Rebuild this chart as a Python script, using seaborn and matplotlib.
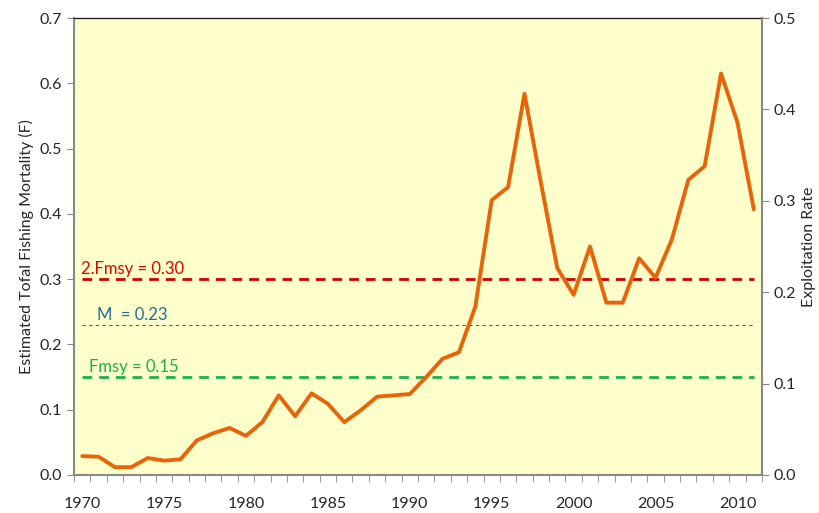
import numpy as np
import pandas as pd
import seaborn as sns
import matplotlib.pyplot as plt
from matplotlib.ticker import FixedLocator

years = list(range(1970, 2012))
fmort = [0.029, 0.028, 0.012, 0.012, 0.026, 0.022, 0.024, 0.053, 0.064, 0.072,
         0.060, 0.081, 0.122, 0.090, 0.125, 0.109, 0.081, 0.099, 0.120, 0.122,
         0.124, 0.150, 0.178, 0.188, 0.258, 0.421, 0.441, 0.584, 0.448, 0.317,
         0.276, 0.350, 0.264, 0.264, 0.332, 0.302, 0.361, 0.452, 0.473, 0.615,
         0.540, 0.407]
ref_names = ["2.Fmsy = 0.30", "M  = 0.23", "Fmsy = 0.15"]
ref_values = [0.30, 0.23, 0.15]

df = pd.DataFrame({"Year": years, "F": fmort})

sns.set_style("ticks")
plt.rcParams['font.family'] = ['Lato', 'DejaVu Sans']

fig = plt.figure(figsize=(8.19, 5.13), dpi=100)
ax = fig.add_axes([74/819, 38/513, 688/819, 457/513])
ax.set_facecolor('#FFFFCC')

sns.lineplot(data=df, x="Year", y="F", ax=ax, color='#E8640A', linewidth=2.8, zorder=5)

# reference lines
ax.plot([years[0], years[-1]], [ref_values[0]] * 2, color='#D00000', lw=2, ls=(0, (3.5, 2.5)))
ax.plot([years[0], years[-1]], [ref_values[1]] * 2, color='#1F6E99', lw=0.8, ls=(0, (3, 3)))
ax.plot([years[0], years[-1]], [ref_values[2]] * 2, color='#1DB04B', lw=2, ls=(0, (3.5, 2.5)))
ax.text(1969.9, ref_values[0] + 0.008, ref_names[0], color='#E00000', fontsize=12)
ax.text(1970.9, ref_values[1] + 0.008, ref_names[1], color='#1F6E99', fontsize=12)
ax.text(1970.4, ref_values[2] + 0.008, ref_names[2], color='#1DB04B', fontsize=12)

ax.set_xlim(1969.5, 2011.5)
ax.set_ylim(0, 0.7)
ax.set_yticks(np.arange(0, 0.71, 0.1))
ax.set_yticklabels([f"{v:.1f}" for v in np.arange(0, 0.71, 0.1)], fontsize=11.5)
ax.set_xticks(list(range(1970, 2012, 5)))
ax.set_xticklabels([str(y) for y in range(1970, 2012, 5)], fontsize=11.5)
ax.xaxis.set_minor_locator(FixedLocator(np.arange(1969.5, 2012, 1)))
ax.tick_params(axis='x', which='major', length=0, pad=16)
ax.tick_params(axis='x', which='minor', length=5, color='#888888')
ax.tick_params(axis='y', length=5, color='#888888')
ax.set_xlabel("")
ax.set_ylabel("Estimated Tofal Fishing Mortality (F)", fontsize=11.5)

for s in ['left', 'bottom']:
    ax.spines[s].set_color('#888888')
    ax.spines[s].set_linewidth(1.5)
ax.spines['top'].set_visible(True)
ax.spines['top'].set_color('#222222')
ax.spines['top'].set_linewidth(1)
ax.spines['right'].set_visible(False)

ax2 = ax.twinx()
ax2.set_ylim(0, 0.5)
ax2.set_yticks(np.arange(0, 0.51, 0.1))
ax2.set_yticklabels([f"{v:.1f}" for v in np.arange(0, 0.51, 0.1)], fontsize=11.5)
ax2.tick_params(axis='y', length=5, color='#888888')
ax2.set_ylabel("Exploitation Rate", fontsize=11.5)
for s in ['left', 'top', 'bottom']:
    ax2.spines[s].set_visible(False)
ax2.spines['right'].set_visible(True)
ax2.spines['right'].set_color('#888888')
ax2.spines['right'].set_linewidth(1.5)

fig.savefig("out.png", dpi=100)
